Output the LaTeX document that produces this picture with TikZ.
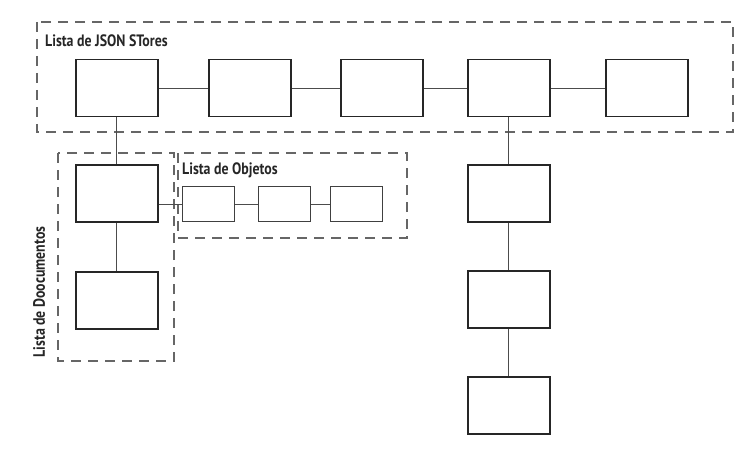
\documentclass[tikz,border=0pt]{standalone}
\usepackage{fontspec}
\setmainfont{PT Sans}
\newcommand{\cnd}[1]{\scalebox{0.84}[1]{\bfseries #1}}
\begin{document}
\begin{tikzpicture}[x=1pt,y=-1pt,
  box/.style={draw=black!85,line width=1.5pt,minimum width=82pt,minimum height=57pt,inner sep=0pt,anchor=north west},
  sbox/.style={draw=black!75,line width=1.3pt,minimum width=52pt,minimum height=35pt,inner sep=0pt,anchor=north west},
  group/.style={draw=black!60,line width=1.4pt,dash pattern=on 10pt off 7pt},
  link/.style={draw=black!70,line width=1.2pt},
  lbl/.style={font=\fontsize{16.5}{18}\selectfont,inner sep=0pt,text=black!85}]
\useasboundingbox (0,0) rectangle (748,460);
% groups
\draw[group] (37,22) rectangle (733,132);
\draw[group] (58,153) rectangle (174,361);
\draw[group] (178,153) rectangle (407,238);
\node[lbl,anchor=west] (l1) at (45,41) {\cnd{Lista de JSON STores}};
\node[lbl,anchor=west] (l2) at (182,170) {\cnd{Lista de Objetos}};
\node[lbl,rotate=90] (l3) at (39,292) {\cnd{Lista de Doocumentos}};
% top row
\node[box] (t1) at (75,59) {};
\node[box] (t2) at (208,59) {};
\node[box] (t3) at (340,59) {};
\node[box] (t4) at (467,59) {};
\node[box] (t5) at (605,59) {};
% documents
\node[box] (d1) at (75,164) {};
\node[box] (d2) at (75,271) {};
% objects
\node[sbox] (o1) at (182,186) {};
\node[sbox] (o2) at (258,186) {};
\node[sbox] (o3) at (330,186) {};
% right column
\node[box] (r1) at (467,164) {};
\node[box] (r2) at (467,270) {};
\node[box] (r3) at (467,376) {};
% links
\draw[link] (t1) -- (t2);
\draw[link] (t2) -- (t3);
\draw[link] (t3) -- (t4);
\draw[link] (t4) -- (t5);
\draw[link] (t1.south) -- (d1.north);
\draw[link] (d1) -- (d2);
\draw[link] (d1.east |- o1.west) -- (o1.west);
\draw[link] (o1) -- (o2);
\draw[link] (o2) -- (o3);
\draw[link] (t4) -- (r1);
\draw[link] (r1) -- (r2);
\draw[link] (r2) -- (r3);
\end{tikzpicture}
\end{document}
